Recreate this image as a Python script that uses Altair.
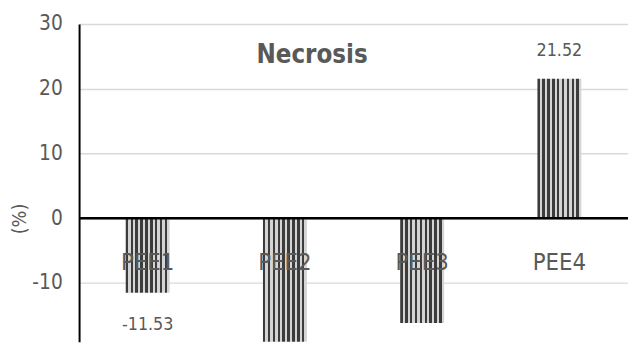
import altair as alt
import pandas as pd

categories = ["PEE1", "PEE2", "PEE3", "PEE4"]
values = [-11.53, -24.0, -16.2, 21.52]
value_labels = ["-11.53", "-24.00", "-16.20", "21.52"]
y_ticks = [-20, -10, 0, 10, 20, 30]
chart_title = "Necrosis"
y_title = "(%)"

FONT = "DejaVu Sans Condensed, Liberation Sans Narrow, sans-serif"
GREY = "#595959"

df = pd.DataFrame({"cat": categories, "val": values, "lab": value_labels})

# fine stripe gradient to approximate the hatched fill
stops = []
n = 9
for i in range(n):
    a = i / n
    b = (i + 0.5) / n
    c = (i + 1) / n
    stops += [
        alt.GradientStop(offset=a, color="#3c3c3c"),
        alt.GradientStop(offset=b, color="#3c3c3c"),
        alt.GradientStop(offset=b, color="#d4d4d4"),
        alt.GradientStop(offset=c, color="#d4d4d4"),
    ]
fill = alt.LinearGradient(gradient="linear", x1=0, x2=1, y1=0, y2=0, stops=stops)

x_enc = alt.X("cat:N", sort=categories, axis=None,
              scale=alt.Scale(paddingInner=0.68, paddingOuter=0.34))
y_scale = alt.Scale(domain=[-19.1, 30], nice=False, zero=False)
y_axis = alt.Axis(values=y_ticks, grid=True, gridColor="#d9d9d9", gridWidth=1.5,
                  domainColor="black", domainWidth=2, ticks=False,
                  labelExpr="toString(datum.value)",
                  labelFont=FONT, labelFontSize=21, labelColor=GREY, labelPadding=17,
                  title=y_title, titleFont=FONT, titleFontSize=20, titleColor=GREY,
                  titleFontWeight="normal", titleAngle=-90, titleX=-60, titleY=197,
                  titleAlign="center", titleBaseline="middle")

base = alt.Chart(df)

bars = base.mark_bar(fill=fill, clip=True).encode(
    x=x_enc,
    y=alt.Y("val:Q", scale=y_scale, axis=y_axis),
)

zero = alt.Chart(pd.DataFrame({"z": [0]})).mark_rule(color="black", strokeWidth=2.5).encode(
    y=alt.Y("z:Q", scale=y_scale),
)

val_up = base.transform_filter("datum.val >= 0").mark_text(
    font=FONT, fontSize=18, color=GREY, dy=-28
).encode(x=x_enc, y=alt.Y("val:Q", scale=y_scale), text="lab:N")

# only the negative labels that fall inside the visible plot
val_down = base.transform_filter("datum.val < 0 && datum.val > -14").mark_text(
    font=FONT, fontSize=18, color=GREY, dy=33
).encode(x=x_enc, y=alt.Y("val:Q", scale=y_scale), text="lab:N")

cat_labels = base.mark_text(font=FONT, fontSize=24, color=GREY).encode(
    x=x_enc, y=alt.datum(-7), text="cat:N"
)

title_txt = alt.Chart(pd.DataFrame({"t": [chart_title]})).mark_text(
    font=FONT, fontSize=26, fontWeight="bold", color=GREY
).encode(x=alt.value(236), y=alt.datum(25.2), text="t:N")

chart = alt.layer(bars, zero, val_up, val_down, cat_labels, title_txt).properties(
    width=556, height=322,
    padding={"left": 72, "top": 14, "right": 0, "bottom": 0},
    autosize=alt.AutoSizeParams(type="none"),
).configure_view(stroke=None)

chart.save("out.html", embed_options={"renderer": "svg", "actions": False})
